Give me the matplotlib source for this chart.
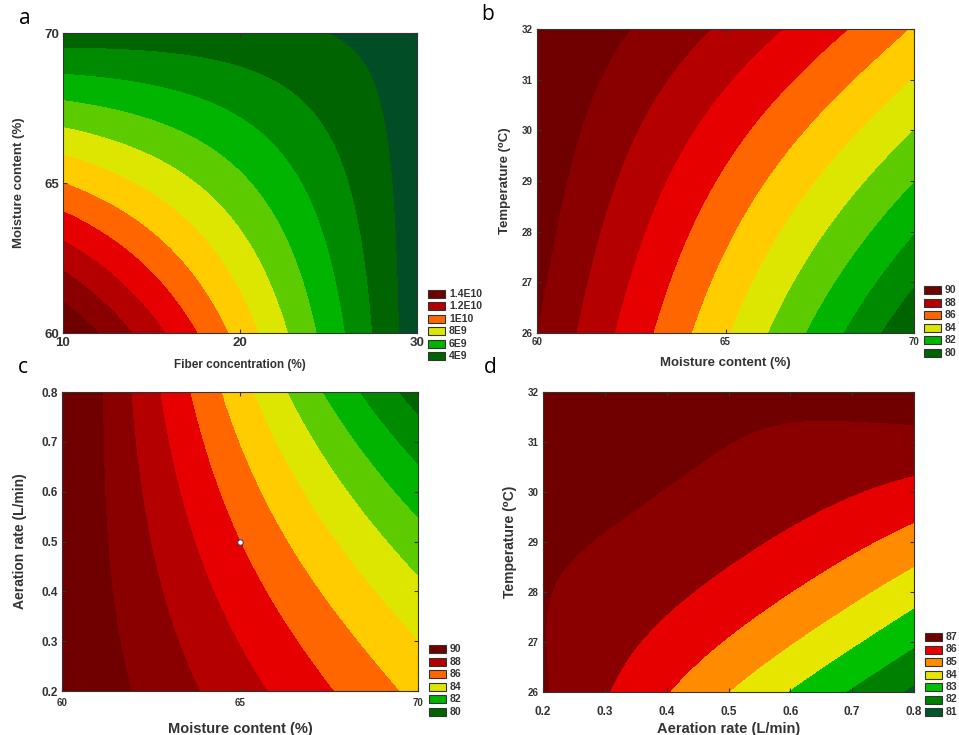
import numpy as np
import matplotlib
matplotlib.use("Agg")
import matplotlib.pyplot as plt
from matplotlib.patches import Rectangle

# factor ranges (low, centre, high)
fiber = [10, 20, 30]
moisture = [60, 65, 70]
temperature = [26, 29, 32]
aeration = [0.2, 0.5, 0.8]

# response at low/centre/high of both factors
# rows = y factor (low..high), columns = x factor (low..high)
cfu_a = [[15.0, 9.6, 3.3],      # units of 1E9
         [10.0, 7.2, 3.4],
         [4.4, 4.3, 3.5]]
deg_b = [[90.0, 85.1, 80.1],
         [90.6, 86.8, 83.0],
         [91.0, 88.8, 85.9]]
deg_c = [[91.0, 88.4, 85.7],
         [91.1, 87.0, 83.4],
         [91.5, 85.4, 80.5]]
deg_d = [[87.1, 84.0, 80.8],
         [87.15, 86.27, 84.56],
         [88.0, 87.15, 87.6]]

levels_a = [4, 5, 6, 7, 8, 9, 10, 11, 12, 13, 14]
levels_bc = [80, 81, 82, 83, 84, 85, 86, 87, 88, 89, 90]
levels_d = [81, 82, 83, 84, 85, 86, 87]

legend_a = ['1.4E10', '1.2E10', '1E10', '8E9', '6E9', '4E9']
legend_bc = ['90', '88', '86', '84', '82', '80']
legend_d = ['87', '86', '85', '84', '83', '82', '81']

center_point = (65, 0.5)

# colours low -> high
pal12 = ['#004d26', '#006400', '#008a00', '#00b400', '#5ccc00', '#dde600',
         '#ffcc00', '#ff6600', '#e60000', '#b40000', '#8a0000', '#700000']
pal8 = ['#00552a', '#008000', '#00c000', '#e6e600', '#ff8c00', '#e60000',
        '#8a0000', '#700000']
leg_cols_12 = [pal12[11], pal12[9], pal12[7], pal12[5], pal12[3], pal12[1]]
leg_cols_8 = [pal8[7], pal8[5], pal8[4], pal8[3], pal8[2], pal8[1], pal8[0]]

W, H = 959, 735
FONT = ['Liberation Sans', 'DejaVu Sans']
plt.rcParams['font.family'] = FONT


def surface(xs, ys, grid, n=300):
    x = np.linspace(xs[0], xs[-1], n)
    y = np.linspace(ys[0], ys[-1], n)
    sx = (x - xs[1]) / (xs[2] - xs[1])
    sy = (y - ys[1]) / (ys[2] - ys[1])
    bx = np.array([sx * (sx - 1) / 2, 1 - sx ** 2, sx * (sx + 1) / 2])
    by = np.array([sy * (sy - 1) / 2, 1 - sy ** 2, sy * (sy + 1) / 2])
    z = by.T @ np.array(grid) @ bx
    return x, y, z


def add_axes(fig, left, top, right, bottom):
    return fig.add_axes([left / W, 1 - bottom / H, (right - left) / W, (bottom - top) / H])


def style(ax, xticks, yticks, xlim, ylim, xfs, yfs, xpad=3):
    ax.set_xlim(xlim)
    ax.set_ylim(ylim)
    ax.set_xticks(xticks)
    ax.set_yticks(yticks)
    ax.tick_params(direction='in', length=3, width=0.8, top=True, right=True,
                   color='#333333', pad=3)
    ax.tick_params(axis='x', labelsize=xfs, pad=xpad)
    ax.tick_params(axis='y', labelsize=yfs)
    for lab in ax.get_xticklabels() + ax.get_yticklabels():
        lab.set_fontweight('bold')
        lab.set_color('#333333')
    for sp in ax.spines.values():
        sp.set_color('#333333')
        sp.set_linewidth(0.8)


def legend(fig, x, y, step, labels, colors, w=17, h=8):
    for i, (lab, col) in enumerate(zip(labels, colors)):
        top = y + i * step
        fig.patches.append(Rectangle((x / W, 1 - (top + h) / H), w / W, h / H,
                                     transform=fig.transFigure, facecolor=col,
                                     edgecolor='#333333', linewidth=0.8))
        fig.text((x + w + 4) / W, 1 - (top + h / 2) / H, lab, fontsize=7.5,
                 fontweight='bold', color='#333333', va='center', ha='left')


def letter(fig, x, y, s):
    fig.text(x / W, 1 - y / H, s, fontsize=15, family=['Open Sans', 'DejaVu Sans'],
             ha='center', va='center')


fig = plt.figure(figsize=(W / 100, H / 100), dpi=100)

# a
ax = add_axes(fig, 63, 33, 417, 333)
x, y, z = surface(fiber, moisture, cfu_a)
ax.contourf(x, y, z, levels=[-1e3] + levels_a + [1e3], colors=pal12)
style(ax, [10, 20, 30], [60, 65, 70], (10, 30), (60, 70), 9.5, 9.5)
ax.set_xlabel('Fiber concentration (%)', fontsize=8.5, fontweight='bold',
              color='#333333', labelpad=7)
ax.set_ylabel('Moisture content (%)', fontsize=9.5, fontweight='bold',
              color='#333333', labelpad=14)
legend(fig, 428, 290, 12.4, legend_a, leg_cols_12)
letter(fig, 25, 18, 'a')

# b
ax = add_axes(fig, 537, 29, 914, 333)
x, y, z = surface(moisture, temperature, deg_b)
ax.contourf(x, y, z, levels=[-1e3] + levels_bc + [1e3], colors=pal12)
style(ax, [60, 65, 70], [26, 27, 28, 29, 30, 31, 32], (60, 70), (26, 32), 7, 7)
ax.set_xlabel('Moisture content (%)', fontsize=9.5, fontweight='bold',
              color='#333333', labelpad=7)
ax.set_ylabel('Temperature (\u2070C)', fontsize=9.5, fontweight='bold',
              color='#333333', labelpad=8)
legend(fig, 924, 286, 12.6, legend_bc, leg_cols_12)
letter(fig, 488, 14, 'b')

# c
ax = add_axes(fig, 62, 392, 418, 691)
x, y, z = surface(moisture, aeration, deg_c)
ax.contourf(x, y, z, levels=[-1e3] + levels_bc + [1e3], colors=pal12)
ax.plot(*center_point, 'o', mfc='white', mec='#404070', ms=4, mew=0.8)
style(ax, [60, 65, 70], [0.2, 0.3, 0.4, 0.5, 0.6, 0.7, 0.8], (60, 70), (0.2, 0.8), 7, 8.5, xpad=5)
ax.set_xlabel('Moisture content (%)', fontsize=10.5, fontweight='bold',
              color='#333333', labelpad=10)
ax.set_ylabel('Aeration rate (L/min)', fontsize=10, fontweight='bold',
              color='#333333', labelpad=10)
legend(fig, 429, 645, 12.6, legend_bc, leg_cols_12)
letter(fig, 23, 367, 'c')

# d
ax = add_axes(fig, 543, 392, 914, 692)
x, y, z = surface(aeration, temperature, deg_d)
ax.contourf(x, y, z, levels=[-1e3] + levels_d + [1e3], colors=pal8)
style(ax, [0.2, 0.3, 0.4, 0.5, 0.6, 0.7, 0.8], [26, 27, 28, 29, 30, 31, 32],
      (0.2, 0.8), (26, 32), 8.5, 7, xpad=10)
ax.set_xlabel('Aeration rate (L/min)', fontsize=10.5, fontweight='bold',
              color='#333333', labelpad=3)
ax.set_ylabel('Temperature (\u2070C)', fontsize=10, fontweight='bold',
              color='#333333', labelpad=8)
legend(fig, 925, 633, 12.5, legend_d, leg_cols_8)
letter(fig, 490, 367, 'd')

fig.savefig('out.png', dpi=100)
